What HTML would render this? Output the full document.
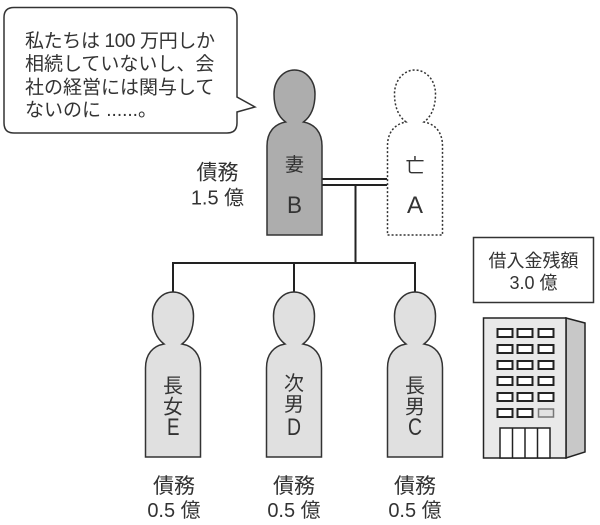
<!DOCTYPE html>
<html><head><meta charset="utf-8">
<style>
html,body{margin:0;padding:0;background:#fff;}
svg{display:block;}
text{font-family:"Liberation Sans","Noto Sans CJK JP",sans-serif;fill:#333;}
</style></head>
<body>
<svg width="600" height="525" viewBox="0 0 600 525" xmlns="http://www.w3.org/2000/svg">
<defs>
<path id="person" d="M -9,52 C -17,46 -20.5,36 -20.5,24 C -20.5,10 -11,0 0,0 C 11,0 20.5,10 20.5,24 C 20.5,36 17,46 9,52 C 20,54 27.5,62 27.5,76 L 27.5,165 L -27.5,165 L -27.5,76 C -27.5,62 -20,54 -9,52 Z"/>
</defs>

<!-- speech bubble -->
<path d="M 14,7.5 L 227,7.5 Q 237,7.5 237,17.5 L 237,97 L 255,107 L 237,112 L 237,123 Q 237,133 227,133 L 14,133 Q 4,133 4,123 L 4,17.5 Q 4,7.5 14,7.5 Z" fill="#fff" stroke="#333" stroke-width="1.5"/>
<text x="25" y="47" font-size="19" textLength="190" lengthAdjust="spacing">私たちは 100 万円しか</text>
<text x="25" y="70" font-size="19">相続していないし、会</text>
<text x="25" y="93.5" font-size="19">社の経営には関与して</text>
<text x="25" y="116" font-size="19">ないのに ......。</text>

<!-- connectors -->
<g stroke="#222" stroke-width="2" fill="none">
<line x1="322" y1="179" x2="387" y2="179"/>
<line x1="322" y1="185" x2="387" y2="185"/>
<line x1="355.5" y1="185" x2="355.5" y2="263"/>
<line x1="173" y1="263" x2="415" y2="263"/>
<line x1="173" y1="262" x2="173" y2="293"/>
<line x1="294" y1="263" x2="294" y2="293"/>
<line x1="415" y1="262" x2="415" y2="293"/>
</g>

<!-- wife B -->
<use href="#person" transform="translate(294.5,70)" fill="#adadad" stroke="#333" stroke-width="1.5"/>
<text x="294.5" y="171" font-size="19" text-anchor="middle">妻</text>
<text x="287" y="213" font-size="24" textLength="15" lengthAdjust="spacingAndGlyphs">B</text>

<!-- deceased A -->
<use href="#person" transform="translate(415,70)" fill="#fff" stroke="#333" stroke-width="1.5" stroke-dasharray="2,2"/>
<text x="415" y="172" font-size="19" text-anchor="middle">亡</text>
<text x="407" y="213" font-size="24" textLength="16" lengthAdjust="spacingAndGlyphs">A</text>

<!-- wife debt -->
<text x="217.5" y="179.5" font-size="21" text-anchor="middle">債務</text>
<text x="217.5" y="204.5" font-size="20" text-anchor="middle">1.5 億</text>

<!-- children -->
<g fill="#e0e0e0" stroke="#333" stroke-width="1.5">
<use href="#person" transform="translate(173,292)"/>
<use href="#person" transform="translate(294,292)"/>
<use href="#person" transform="translate(415,292)"/>
</g>
<g font-size="20" text-anchor="middle">
<text x="173" y="392.5">長</text>
<text x="173" y="413.5">女</text>
<text x="294" y="390">次</text>
<text x="294" y="411">男</text>
<text x="415" y="392.5">長</text>
<text x="415" y="413.5">男</text>
</g>
<g font-size="24">
<text x="167" y="435" textLength="12.5" lengthAdjust="spacingAndGlyphs">E</text>
<text x="287" y="435" textLength="14" lengthAdjust="spacingAndGlyphs">D</text>
<text x="408" y="435" textLength="14" lengthAdjust="spacingAndGlyphs">C</text>
</g>
<g text-anchor="middle">
<text x="174" y="493" font-size="21">債務</text>
<text x="294" y="493" font-size="21">債務</text>
<text x="415" y="493" font-size="21">債務</text>
<text x="174" y="517" font-size="20">0.5 億</text>
<text x="294" y="517" font-size="20">0.5 億</text>
<text x="415" y="517" font-size="20">0.5 億</text>
</g>

<!-- label box -->
<rect x="473.5" y="237.5" width="120" height="65" fill="#fff" stroke="#333" stroke-width="1.5"/>
<text x="533.5" y="267" font-size="18" text-anchor="middle">借入金残額</text>
<text x="533.5" y="289" font-size="18" text-anchor="middle">3.0 億</text>

<!-- building -->
<polygon points="566,318 585,323 585,452 566,458" fill="#c8c8c8" stroke="#222" stroke-width="1.5"/>
<rect x="483.5" y="318" width="82.5" height="140" fill="#e9e9e9" stroke="#222" stroke-width="1.5"/>
<g fill="#fff" stroke="#222" stroke-width="2">
<rect x="497.5" y="329" width="15" height="8"/><rect x="517.5" y="329" width="15" height="8"/><rect x="538.5" y="329" width="15" height="8"/>
<rect x="497.5" y="345" width="15" height="8"/><rect x="517.5" y="345" width="15" height="8"/><rect x="538.5" y="345" width="15" height="8"/>
<rect x="497.5" y="361" width="15" height="8"/><rect x="517.5" y="361" width="15" height="8"/><rect x="538.5" y="361" width="15" height="8"/>
<rect x="497.5" y="377" width="15" height="8"/><rect x="517.5" y="377" width="15" height="8"/><rect x="538.5" y="377" width="15" height="8"/>
<rect x="497.5" y="393" width="15" height="8"/><rect x="517.5" y="393" width="15" height="8"/><rect x="538.5" y="393" width="15" height="8"/>
<rect x="497.5" y="409" width="15" height="8"/><rect x="517.5" y="409" width="15" height="8"/>
</g>
<rect x="538.5" y="409" width="15" height="8" fill="#e2e2e2" stroke="#777" stroke-width="1.5"/>
<rect x="500" y="428" width="50" height="30" fill="#fff" stroke="#222" stroke-width="1.5"/>
<g stroke="#222" stroke-width="1.5">
<line x1="512.5" y1="428" x2="512.5" y2="458"/>
<line x1="525" y1="428" x2="525" y2="458"/>
<line x1="537.5" y1="428" x2="537.5" y2="458"/>
</g>
</svg>
</body></html>
